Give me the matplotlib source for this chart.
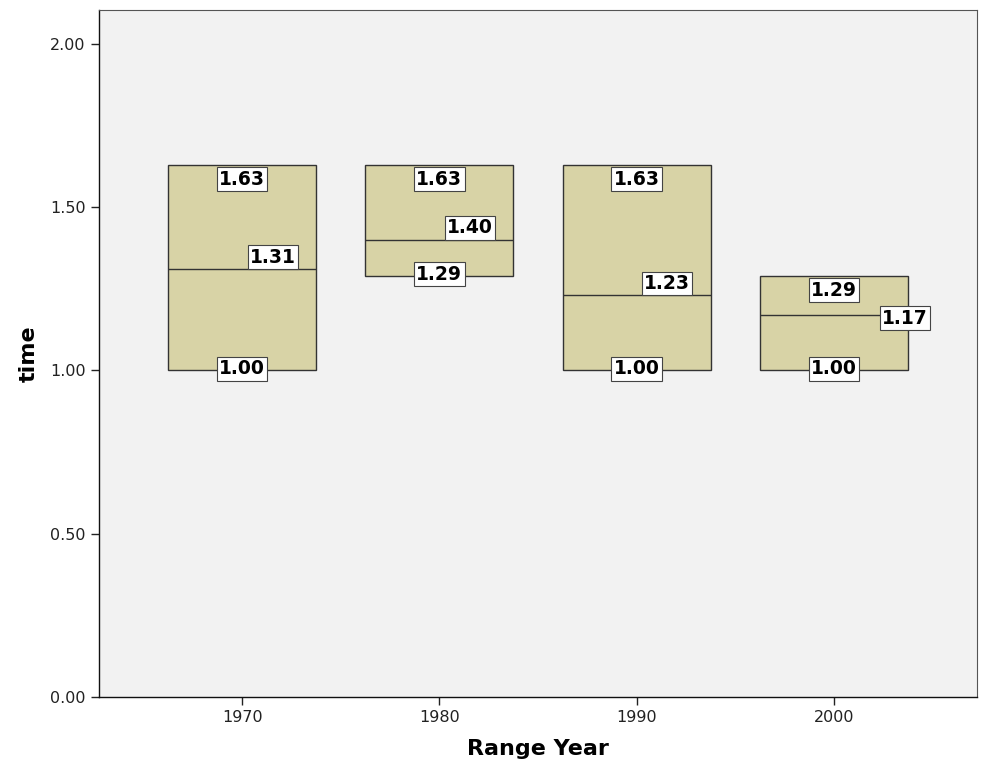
import matplotlib
matplotlib.use("Agg")
import matplotlib.pyplot as plt

years = ["1970", "1980", "1990", "2000"]
q1 = [1.00, 1.29, 1.00, 1.00]
med = [1.31, 1.40, 1.23, 1.17]
q3 = [1.63, 1.63, 1.63, 1.29]
yticks = [0.00, 0.50, 1.00, 1.50, 2.00]

fig = plt.figure(figsize=(9.83, 7.73), dpi=100)
ax = fig.add_axes([99/983, 1-697/773, (977-99)/983, (697-10)/773])
ax.set_facecolor("#f2f2f2")

stats = []
for i, y in enumerate(years):
    stats.append(dict(label=y, q1=q1[i], med=med[i], q3=q3[i],
                      whislo=q1[i], whishi=q3[i], fliers=[]))
ax.bxp(stats, positions=range(len(years)), widths=0.75, patch_artist=True,
       showcaps=False, showfliers=False,
       boxprops=dict(facecolor="#d8d3a6", edgecolor="#333333", linewidth=1.0),
       medianprops=dict(color="#333333", linewidth=1.0),
       whiskerprops=dict(linewidth=0))

bbox = dict(boxstyle="square,pad=0.12", facecolor="white", edgecolor="#444444", linewidth=0.8)
kw = dict(fontsize=13.5, fontweight="bold", bbox=bbox, color="black", zorder=5)
# median label offsets (x in data units from box center, vertical alignment)
med_dx = [0.155, 0.155, 0.155, 0.36]
med_va = ["bottom", "bottom", "bottom", "center"]
for i in range(len(years)):
    ax.text(i, q3[i] - 0.015, f"{q3[i]:.2f}", ha="center", va="top", **kw)
    ax.text(i, q1[i] + 0.005, f"{q1[i]:.2f}", ha="center", va="center", **kw)
    ax.text(i + med_dx[i], med[i] + (0.008 if med_va[i] == "bottom" else -0.01),
            f"{med[i]:.2f}", ha="center", va=med_va[i], **kw)

ax.set_xlim(-0.726, 3.726)
ax.set_ylim(0, 2.104)
ax.set_yticks(yticks)
ax.set_yticklabels([f"{v:.2f}" for v in yticks])
ax.set_xticks(range(len(years)))
ax.set_xticklabels(years)
ax.tick_params(axis="both", direction="out", length=6, width=1, labelsize=11.5, colors="#222222")
for s in ["top", "right"]:
    ax.spines[s].set_color("#555555")
for s in ["left", "bottom"]:
    ax.spines[s].set_color("#111111")
    ax.spines[s].set_linewidth(1.0)
ax.set_xlabel("Range Year", fontsize=16, fontweight="bold", labelpad=10)
ax.set_ylabel("time", fontsize=16, fontweight="bold", labelpad=8)

fig.savefig("out.png", dpi=100, facecolor="white")
